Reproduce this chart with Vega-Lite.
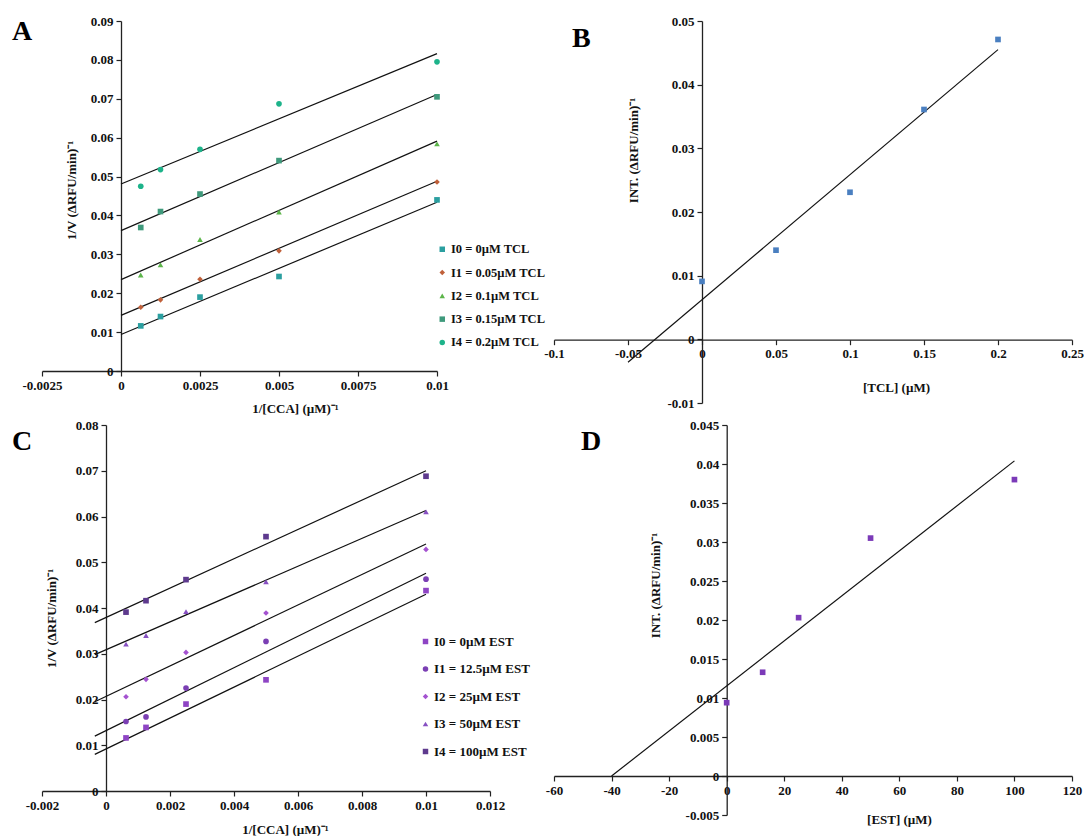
{
  "$schema": "https://vega.github.io/schema/vega-lite/v6.json",
  "background": "white",
  "padding": {"left": 12, "top": 15, "right": 0, "bottom": 0},
  "config": {
    "font": "Liberation Serif",
    "view": {"stroke": null},
    "axis": {
      "grid": false,
      "labelFont": "Liberation Serif", "labelFontSize": 13, "labelFontWeight": "bold", "labelColor": "#111",
      "titleFont": "Liberation Serif", "titleFontSize": 13, "titleFontWeight": "bold", "titleColor": "#111",
      "titleBaseline": "middle", "titleAlign": "center",
      "domainColor": "#222", "domainWidth": 1.3, "tickColor": "#222", "tickSize": 5, "tickWidth": 1.2,
      "labelPadding": 3
    },
    "legend": {
      "labelFont": "Liberation Serif", "labelFontSize": 12.5, "labelFontWeight": "bold", "labelColor": "#111",
      "symbolSize": 30, "padding": 0, "symbolOpacity": 1, "symbolStrokeWidth": 0
    },
    "title": {"font": "Liberation Serif", "fontWeight": "bold", "fontSize": 28, "color": "#000", "anchor": "start", "frame": "group", "baseline": "alphabetic"}
  },
  "datasets": {
    "ptsA": [
      {"s": "I0 = 0µM TCL", "x": 0.000625, "y": 0.0116}, {"s": "I0 = 0µM TCL", "x": 0.00125, "y": 0.0140}, {"s": "I0 = 0µM TCL", "x": 0.0025, "y": 0.0190}, {"s": "I0 = 0µM TCL", "x": 0.005, "y": 0.0243}, {"s": "I0 = 0µM TCL", "x": 0.01, "y": 0.0440},
      {"s": "I1 = 0.05µM TCL", "x": 0.000625, "y": 0.0164}, {"s": "I1 = 0.05µM TCL", "x": 0.00125, "y": 0.0183}, {"s": "I1 = 0.05µM TCL", "x": 0.0025, "y": 0.0236}, {"s": "I1 = 0.05µM TCL", "x": 0.005, "y": 0.0309}, {"s": "I1 = 0.05µM TCL", "x": 0.01, "y": 0.0486},
      {"s": "I2 = 0.1µM TCL", "x": 0.000625, "y": 0.0247}, {"s": "I2 = 0.1µM TCL", "x": 0.00125, "y": 0.0273}, {"s": "I2 = 0.1µM TCL", "x": 0.0025, "y": 0.0338}, {"s": "I2 = 0.1µM TCL", "x": 0.005, "y": 0.0409}, {"s": "I2 = 0.1µM TCL", "x": 0.01, "y": 0.0584},
      {"s": "I3 = 0.15µM TCL", "x": 0.000625, "y": 0.0369}, {"s": "I3 = 0.15µM TCL", "x": 0.00125, "y": 0.0410}, {"s": "I3 = 0.15µM TCL", "x": 0.0025, "y": 0.0455}, {"s": "I3 = 0.15µM TCL", "x": 0.005, "y": 0.0541}, {"s": "I3 = 0.15µM TCL", "x": 0.01, "y": 0.0705},
      {"s": "I4 = 0.2µM TCL", "x": 0.000625, "y": 0.0475}, {"s": "I4 = 0.2µM TCL", "x": 0.00125, "y": 0.0518}, {"s": "I4 = 0.2µM TCL", "x": 0.0025, "y": 0.0570}, {"s": "I4 = 0.2µM TCL", "x": 0.005, "y": 0.0687}, {"s": "I4 = 0.2µM TCL", "x": 0.01, "y": 0.0795}
    ],
    "linA": [
      {"s": "I0", "x": 0, "y": 0.0094}, {"s": "I0", "x": 0.01, "y": 0.0434},
      {"s": "I1", "x": 0, "y": 0.0143}, {"s": "I1", "x": 0.01, "y": 0.0488},
      {"s": "I2", "x": 0, "y": 0.0235}, {"s": "I2", "x": 0.01, "y": 0.0591},
      {"s": "I3", "x": 0, "y": 0.0361}, {"s": "I3", "x": 0.01, "y": 0.0711},
      {"s": "I4", "x": 0, "y": 0.0481}, {"s": "I4", "x": 0.01, "y": 0.0816}
    ],
    "ptsB": [
      {"x": 0, "y": 0.0091}, {"x": 0.05, "y": 0.0140}, {"x": 0.1, "y": 0.0231}, {"x": 0.15, "y": 0.0361}, {"x": 0.2, "y": 0.0471}
    ],
    "linB": [
      {"x": -0.05, "y": -0.0036}, {"x": 0.2, "y": 0.0455}
    ],
    "ptsC": [
      {"s": "I0 = 0µM EST", "x": 0.000625, "y": 0.0116}, {"s": "I0 = 0µM EST", "x": 0.00125, "y": 0.0139}, {"s": "I0 = 0µM EST", "x": 0.0025, "y": 0.0190}, {"s": "I0 = 0µM EST", "x": 0.005, "y": 0.0243}, {"s": "I0 = 0µM EST", "x": 0.01, "y": 0.0438},
      {"s": "I1 = 12.5µM EST", "x": 0.000625, "y": 0.0152}, {"s": "I1 = 12.5µM EST", "x": 0.00125, "y": 0.0162}, {"s": "I1 = 12.5µM EST", "x": 0.0025, "y": 0.0225}, {"s": "I1 = 12.5µM EST", "x": 0.005, "y": 0.0327}, {"s": "I1 = 12.5µM EST", "x": 0.01, "y": 0.0463},
      {"s": "I2 = 25µM EST", "x": 0.000625, "y": 0.0206}, {"s": "I2 = 25µM EST", "x": 0.00125, "y": 0.0244}, {"s": "I2 = 25µM EST", "x": 0.0025, "y": 0.0303}, {"s": "I2 = 25µM EST", "x": 0.005, "y": 0.0389}, {"s": "I2 = 25µM EST", "x": 0.01, "y": 0.0528},
      {"s": "I3 = 50µM EST", "x": 0.000625, "y": 0.0321}, {"s": "I3 = 50µM EST", "x": 0.00125, "y": 0.0340}, {"s": "I3 = 50µM EST", "x": 0.0025, "y": 0.0392}, {"s": "I3 = 50µM EST", "x": 0.005, "y": 0.0457}, {"s": "I3 = 50µM EST", "x": 0.01, "y": 0.0610},
      {"s": "I4 = 100µM EST", "x": 0.000625, "y": 0.0391}, {"s": "I4 = 100µM EST", "x": 0.00125, "y": 0.0416}, {"s": "I4 = 100µM EST", "x": 0.0025, "y": 0.0462}, {"s": "I4 = 100µM EST", "x": 0.005, "y": 0.0556}, {"s": "I4 = 100µM EST", "x": 0.01, "y": 0.0688}
    ],
    "linC": [
      {"s": "I0", "x": -0.00035, "y": 0.0080}, {"s": "I0", "x": 0.01, "y": 0.0430},
      {"s": "I1", "x": -0.00035, "y": 0.0120}, {"s": "I1", "x": 0.01, "y": 0.0476},
      {"s": "I2", "x": -0.00035, "y": 0.0195}, {"s": "I2", "x": 0.01, "y": 0.0540},
      {"s": "I3", "x": -0.00035, "y": 0.0298}, {"s": "I3", "x": 0.01, "y": 0.0613},
      {"s": "I4", "x": -0.00035, "y": 0.0368}, {"s": "I4", "x": 0.01, "y": 0.0700}
    ],
    "ptsD": [
      {"x": 0, "y": 0.0094}, {"x": 12.5, "y": 0.0133}, {"x": 25, "y": 0.0203}, {"x": 50, "y": 0.0305}, {"x": 100, "y": 0.0380}
    ],
    "linD": [
      {"x": -40, "y": 0}, {"x": 100, "y": 0.0404}
    ]
  },
  "columns": 2,
  "spacing": {"row": 22, "column": 64},
  "bounds": "flush",
  "resolve": {"scale": {"color": "independent", "shape": "independent", "x": "independent", "y": "independent"}, "legend": {"color": "independent", "shape": "independent"}},
  "concat": [
    {
      "width": 395, "height": 350,
      "title": {"text": "A", "offset": -30.5, "dx": -30},
      "layer": [
        {
          "data": {"name": "linA"},
          "mark": {"type": "line", "color": "#111", "strokeWidth": 1.2},
          "encoding": {
            "x": {"field": "x", "type": "quantitative", "scale": {"domain": [-0.0025, 0.01], "nice": false, "zero": false},
              "axis": {"values": [-0.0025, 0, 0.0025, 0.005, 0.0075, 0.01], "tickCount": 40, "labelExpr": "replace(format(datum.value, '~g'), '−', '-')", "labelOverlap": false, "labelFlush": false, "title": "1/[CCA] (µM)⁻¹", "offset": 0, "titleX": 253, "titleY": 37}},
            "y": {"field": "y", "type": "quantitative", "scale": {"domain": [0, 0.09], "nice": false, "zero": false},
              "axis": {"values": [0, 0.01, 0.02, 0.03, 0.04, 0.05, 0.06, 0.07, 0.08, 0.09], "tickCount": 40, "labelExpr": "replace(format(datum.value, '~g'), '−', '-')", "labelOverlap": false, "labelFlush": false, "title": "1/V (ΔRFU/min)⁻¹", "offset": -79, "titleX": -50, "titleY": 169}},
            "detail": {"field": "s"}
          }
        },
        {
          "data": {"name": "ptsA"},
          "mark": {"type": "point", "filled": true, "size": 32, "opacity": 1},
          "encoding": {
            "x": {"field": "x", "type": "quantitative"},
            "y": {"field": "y", "type": "quantitative"},
            "color": {"field": "s", "type": "nominal",
              "scale": {"domain": ["I0 = 0µM TCL", "I1 = 0.05µM TCL", "I2 = 0.1µM TCL", "I3 = 0.15µM TCL", "I4 = 0.2µM TCL"], "range": ["#2b9fa0", "#c0603a", "#5cb54a", "#3f9a7c", "#1db38a"]},
              "legend": {"title": null, "orient": "none", "legendX": 394, "legendY": 222, "rowPadding": 10.3, "labelOffset": 2.5}},
            "shape": {"field": "s", "type": "nominal",
              "scale": {"domain": ["I0 = 0µM TCL", "I1 = 0.05µM TCL", "I2 = 0.1µM TCL", "I3 = 0.15µM TCL", "I4 = 0.2µM TCL"], "range": ["square", "diamond", "triangle-up", "square", "circle"]},
              "legend": {"title": null, "orient": "none", "legendX": 394, "legendY": 222, "rowPadding": 10.3, "labelOffset": 2.5}}
          }
        }
      ]
    },
    {
      "width": 518, "height": 382,
      "title": {"text": "B", "offset": -38.3, "dx": 18},
      "layer": [
        {
          "data": {"name": "linB"},
          "mark": {"type": "line", "color": "#111", "strokeWidth": 1.2},
          "encoding": {
            "x": {"field": "x", "type": "quantitative", "scale": {"domain": [-0.1, 0.25], "nice": false, "zero": false},
              "axis": {"values": [-0.1, -0.05, 0, 0.05, 0.1, 0.15, 0.2, 0.25], "tickCount": 40, "labelExpr": "replace(format(datum.value, '~g'), '−', '-')", "labelOverlap": false, "labelFlush": false, "title": "[TCL] (µM)", "offset": -63.3, "titleX": 342, "titleY": 48}},
            "y": {"field": "y", "type": "quantitative", "scale": {"domain": [-0.01, 0.05], "nice": false, "zero": false},
              "axis": {"values": [-0.01, 0, 0.01, 0.02, 0.03, 0.04, 0.05], "tickCount": 40, "labelExpr": "replace(format(datum.value, '~g'), '−', '-')", "labelOverlap": false, "labelFlush": false, "title": "INT. (ΔRFU/min)⁻¹", "offset": -148, "titleX": -69, "titleY": 129}}
          }
        },
        {
          "data": {"name": "ptsB"},
          "mark": {"type": "point", "filled": true, "size": 32, "opacity": 1, "shape": "square", "color": "#4a7fc0"},
          "encoding": {
            "x": {"field": "x", "type": "quantitative"},
            "y": {"field": "y", "type": "quantitative"}
          }
        }
      ]
    },
    {
      "width": 448, "height": 366,
      "title": {"text": "C", "offset": -37, "dx": -30},
      "layer": [
        {
          "data": {"name": "linC"},
          "mark": {"type": "line", "color": "#111", "strokeWidth": 1.2},
          "encoding": {
            "x": {"field": "x", "type": "quantitative", "scale": {"domain": [-0.002, 0.012], "nice": false, "zero": false},
              "axis": {"values": [-0.002, 0, 0.002, 0.004, 0.006, 0.008, 0.01, 0.012], "tickCount": 40, "labelExpr": "replace(format(datum.value, '~g'), '−', '-')", "labelOverlap": false, "labelFlush": false, "title": "1/[CCA] (µM)⁻¹", "offset": 0, "titleX": 243, "titleY": 38}},
            "y": {"field": "y", "type": "quantitative", "scale": {"domain": [0, 0.08], "nice": false, "zero": false},
              "axis": {"values": [0, 0.01, 0.02, 0.03, 0.04, 0.05, 0.06, 0.07, 0.08], "tickCount": 40, "labelExpr": "replace(format(datum.value, '~g'), '−', '-')", "labelOverlap": false, "labelFlush": false, "title": "1/V (ΔRFU/min)⁻¹", "offset": -64, "titleX": -55, "titleY": 193}},
            "detail": {"field": "s"}
          }
        },
        {
          "data": {"name": "ptsC"},
          "mark": {"type": "point", "filled": true, "size": 32, "opacity": 1},
          "encoding": {
            "x": {"field": "x", "type": "quantitative"},
            "y": {"field": "y", "type": "quantitative"},
            "color": {"field": "s", "type": "nominal",
              "scale": {"domain": ["I0 = 0µM EST", "I1 = 12.5µM EST", "I2 = 25µM EST", "I3 = 50µM EST", "I4 = 100µM EST"], "range": ["#8e44c4", "#7b3fb4", "#a452d0", "#8750c2", "#5e3a8e"]},
              "legend": {"title": null, "orient": "none", "legendX": 377, "legendY": 210, "rowPadding": 13.5, "labelOffset": 2, "labelFontSize": 13}},
            "shape": {"field": "s", "type": "nominal",
              "scale": {"domain": ["I0 = 0µM EST", "I1 = 12.5µM EST", "I2 = 25µM EST", "I3 = 50µM EST", "I4 = 100µM EST"], "range": ["square", "circle", "diamond", "triangle-up", "square"]},
              "legend": {"title": null, "orient": "none", "legendX": 377, "legendY": 210, "rowPadding": 13.5, "labelOffset": 2, "labelFontSize": 13}}
          }
        }
      ]
    },
    {
      "width": 518, "height": 390,
      "title": {"text": "D", "offset": -37, "dx": 27},
      "layer": [
        {
          "data": {"name": "linD"},
          "mark": {"type": "line", "color": "#111", "strokeWidth": 1.2},
          "encoding": {
            "x": {"field": "x", "type": "quantitative", "scale": {"domain": [-60, 120], "nice": false, "zero": false},
              "axis": {"values": [-60, -40, -20, 0, 20, 40, 60, 80, 100, 120], "tickCount": 40, "labelExpr": "replace(format(datum.value, '~g'), '−', '-')", "labelOverlap": false, "labelFlush": false, "title": "[EST] (µM)", "offset": -39, "titleX": 345, "titleY": 43}},
            "y": {"field": "y", "type": "quantitative", "scale": {"domain": [-0.005, 0.045], "nice": false, "zero": false},
              "axis": {"values": [-0.005, 0, 0.005, 0.01, 0.015, 0.02, 0.025, 0.03, 0.035, 0.04, 0.045], "tickCount": 40, "labelExpr": "replace(format(datum.value, '~g'), '−', '-')", "labelOverlap": false, "labelFlush": false, "title": "INT. (ΔRFU/min)⁻¹", "offset": -172.7, "titleX": -71, "titleY": 160}}
          }
        },
        {
          "data": {"name": "ptsD"},
          "mark": {"type": "point", "filled": true, "size": 32, "opacity": 1, "shape": "square", "color": "#7b3ab8"},
          "encoding": {
            "x": {"field": "x", "type": "quantitative"},
            "y": {"field": "y", "type": "quantitative"}
          }
        }
      ]
    }
  ]
}
